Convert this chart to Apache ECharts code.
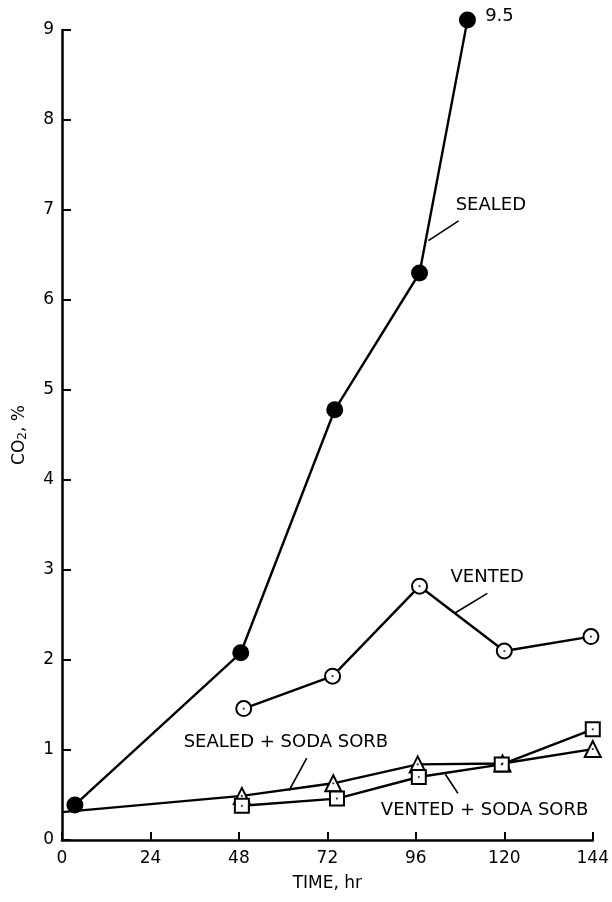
<!DOCTYPE html>
<html>
<head>
<meta charset="utf-8">
<script src="https://cdn.jsdelivr.net/npm/echarts@6/dist/echarts.min.js"></script>
<style>
  html, body { margin: 0; padding: 0; background: #fff; }
  #chart { width: 612px; height: 902px; }
</style>
</head>
<body>
<div id="chart"></div>
<script>
// values: [time hr, CO2 %]
const sealed = [[3.5, 0.39], [48.5, 2.08], [74, 4.78], [97, 6.3], [110, 9.11]];
const vented = [[49.3, 1.46], [73.4, 1.82], [97, 2.82], [120, 2.1], [143.5, 2.26]];
const sealedSoda = [[0, 0.31], [48.8, 0.49], [73.6, 0.63], [96.5, 0.84], [119.5, 0.85], [144, 1.01]];
const ventedSoda = [[48.8, 0.38], [74.6, 0.46], [96.8, 0.7], [119.3, 0.84], [144, 1.23]];
const xTicks = [0, 24, 48, 72, 96, 120, 144];
const yTicks = [0, 1, 2, 3, 4, 5, 6, 7, 8, 9];

const font = 'DejaVu Sans';
const ink = '#000';

// text callouts: label anchor + leader line, in data units
const notes = [
  { text: 'SEALED', at: [106.8, 7.05], line: [[107.6, 6.88], [99.4, 6.66]] },
  { text: 'VENTED', at: [105.4, 2.92], line: [[115.4, 2.74], [106.5, 2.52]] },
  { text: 'SEALED + SODA SORB', at: [33, 1.09], line: [[66.4, 0.91], [61.6, 0.55]] },
  { text: 'VENTED + SODA SORB', at: [86.5, 0.33], line: [[107.4, 0.52], [104, 0.73]] },
  { text: '9.5', at: [114.8, 9.15], line: null }
];

const chart = echarts.init(document.getElementById('chart'));

function lineSeries(name, data, symbol, size, filled) {
  return {
    name: name,
    type: 'line',
    data: data,
    clip: false,
    symbol: symbol,
    symbolSize: size,
    showAllSymbol: true,
    lineStyle: { color: ink, width: 2.4 },
    itemStyle: { color: filled ? ink : '#fff', borderColor: ink, borderWidth: 2 },
    z: filled ? 3 : 4
  };
}

function centerDots(data) {
  return {
    type: 'scatter',
    data: data,
    clip: false,
    symbol: 'circle',
    symbolSize: 2.2,
    itemStyle: { color: ink },
    z: 6,
    silent: true
  };
}

chart.setOption({
  animation: false,
  backgroundColor: '#fff',
  grid: { left: 62, right: 18, top: 30, bottom: 62 },
  xAxis: {
    type: 'value',
    min: xTicks[0],
    max: xTicks[xTicks.length - 1],
    interval: 24,
    name: 'TIME, hr',
    nameLocation: 'middle',
    nameGap: 35,
    nameTextStyle: { fontFamily: font, fontSize: 17, color: ink },
    axisLine: { lineStyle: { color: ink, width: 2.5 } },
    axisTick: { inside: true, length: 8, lineStyle: { color: ink, width: 2 } },
    axisLabel: { fontFamily: font, fontSize: 17, color: ink, margin: 10 },
    splitLine: { show: false }
  },
  yAxis: {
    type: 'value',
    min: yTicks[0],
    max: yTicks[yTicks.length - 1],
    interval: 1,
    name: 'CO{sub|2}, %',
    nameLocation: 'middle',
    nameRotate: 90,
    nameGap: 33,
    nameTextStyle: {
      fontFamily: font, fontSize: 17, color: ink,
      rich: { sub: { fontFamily: font, fontSize: 12, color: ink, verticalAlign: 'bottom', padding: [6, 0, 0, 0] } }
    },
    axisLine: { show: true, lineStyle: { color: ink, width: 2.5 } },
    axisTick: { show: true, inside: true, length: 9, lineStyle: { color: ink, width: 2 } },
    axisLabel: { fontFamily: font, fontSize: 17, color: ink, margin: 8 },
    splitLine: { show: false }
  },
  series: [
    lineSeries('SEALED', sealed, 'circle', 15, true),
    lineSeries('VENTED', vented, 'circle', 15, false),
    Object.assign(lineSeries('SEALED + SODA SORB', sealedSoda, 'triangle', 16, false), {
      symbol: function (v, p) { return p.dataIndex === 0 ? 'none' : 'triangle'; }
    }),
    lineSeries('VENTED + SODA SORB', ventedSoda, 'rect', 14, false),
    centerDots(vented),
    centerDots(sealedSoda.slice(1)),
    centerDots(ventedSoda)
  ]
});

// place callout texts and leader lines through the grid's scales
const px = (p) => chart.convertToPixel({ gridIndex: 0 }, p);
const graphics = [];
notes.forEach(function (n) {
  const a = px(n.at);
  graphics.push({
    type: 'text',
    x: a[0], y: a[1],
    style: { text: n.text, font: '18px "' + font + '"', fill: ink, textVerticalAlign: 'middle' },
    z: 10
  });
  if (n.line) {
    const p0 = px(n.line[0]), p1 = px(n.line[1]);
    graphics.push({
      type: 'line',
      shape: { x1: p0[0], y1: p0[1], x2: p1[0], y2: p1[1] },
      style: { stroke: ink, lineWidth: 1.6 },
      z: 10
    });
  }
});
chart.setOption({ graphic: graphics });
</script>
</body>
</html>
